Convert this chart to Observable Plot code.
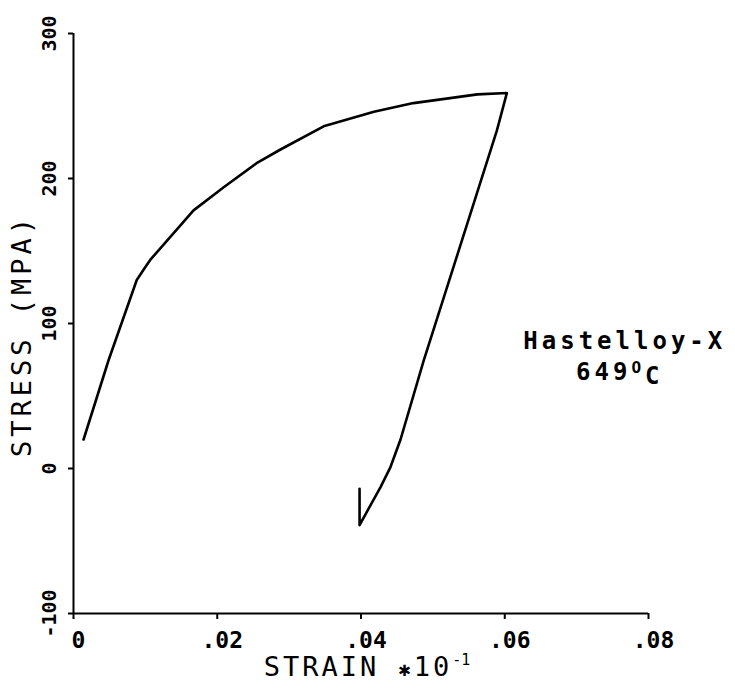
<!DOCTYPE html>
<html>
<head>
<meta charset="utf-8">
<script src="https://cdn.jsdelivr.net/npm/d3@7"></script>
<script src="https://cdn.jsdelivr.net/npm/@observablehq/plot@0.6"></script>
<style>
  html, body { margin: 0; padding: 0; background: #fff; }
  svg { font-family: "DejaVu Sans Mono", monospace; }
</style>
</head>
<body>
<div id="chart"></div>
<script>
// Stress-strain curve, Hastelloy-X at 649 °C
const strain = [0.0014, 0.0049, 0.0088, 0.0100, 0.0107, 0.0167, 0.0209, 0.0256, 0.0288, 0.0348, 0.0418, 0.0473, 0.0562, 0.0603,
                0.0589, 0.0487, 0.0455, 0.0441, 0.0427, 0.0398, 0.0398];
const stress = [20, 75, 130, 139, 144, 178, 194, 211, 220, 236, 246, 252, 258, 259,
                233, 74, 20, 1, -13, -39, -14];

const xTicks = [0, 0.02, 0.04, 0.06, 0.08];
const xTickLabels = ["0", ".02", ".04", ".06", ".08"];
const yTicks = [-100, 0, 100, 200, 300];
const yTickLabels = ["-100", "0", "100", "200", "300"];

const xLabel = "STRAIN \u273110-1";
const yLabel = "STRESS (MPA)";
const material = "Hastelloy-X";
const temperature = "649OC";

const points = strain.map((s, i) => ({strain: s, stress: stress[i]}));

const chart = Plot.plot({
  width: 735,
  height: 688,
  marginLeft: 73,
  marginRight: 87,
  marginTop: 33,
  marginBottom: 75,
  x: {domain: [0, 0.08]},
  y: {domain: [-100, 300]},
  style: {fontFamily: "DejaVu Sans Mono, monospace", color: "#000", background: "#fff"},
  marks: [
    Plot.ruleX([0], {y1: -100, y2: 300, stroke: "#000", strokeWidth: 2}),
    Plot.ruleY([-100], {x1: 0, x2: 0.08, stroke: "#000", strokeWidth: 2.2}),
    Plot.axisX({ticks: xTicks, tickFormat: () => "", tickSize: 6, label: null, strokeWidth: 2}),
    Plot.text(xTicks, {x: d => d, text: d => xTickLabels[xTicks.indexOf(d)], frameAnchor: "bottom", lineAnchor: "top",
                       dx: 5, dy: 18, fontSize: 23, fontWeight: "bold"}),
    Plot.axisY({ticks: yTicks, tickFormat: d => yTickLabels[yTicks.indexOf(d)], tickSize: 5, tickPadding: 13,
                tickRotate: -90, fontSize: 20, fontWeight: "bold", label: null, strokeWidth: 2}),
    Plot.line(points, {x: "strain", y: "stress", stroke: "#000", strokeWidth: 2.6, strokeLinejoin: "round"}),
    Plot.text([xLabel], {text: d => d, frameAnchor: "bottom", textAnchor: "middle", lineAnchor: "middle", dx: 6, dy: 54, fontSize: 27}),
    Plot.text([yLabel], {text: d => d, frameAnchor: "left", textAnchor: "middle", lineAnchor: "middle", rotate: -90, dx: -51, dy: 12, fontSize: 27}),
    Plot.text([material], {text: d => d, x: 0.0767, y: 88, fontSize: 24, fontWeight: "bold"}),
    Plot.text([temperature], {text: d => d, x: 0.0760, y: 66, fontSize: 24, fontWeight: "bold"})
  ]
});

document.getElementById("chart").appendChild(chart);

// letter spacing and superscripts for the annotation texts
d3.select(chart).selectAll("text").each(function() {
  const t = d3.select(this);
  const s = this.textContent;
  if (s === xLabel) {
    t.text("").style("letter-spacing", "3px");
    t.append("tspan").text("STRAIN ");
    t.append("tspan").attr("font-size", 20).attr("dy", "-0.02em").text("\u2731");
    t.append("tspan").attr("dy", "0.02em").text("10");
    t.append("tspan").attr("font-size", 15).attr("dy", "-0.75em").style("letter-spacing", "0px").text("-1");
  } else if (s === yLabel) {
    t.style("letter-spacing", "4px");
  } else if (s === material) {
    t.style("letter-spacing", "4px");
  } else if (s === temperature) {
    t.text("").style("letter-spacing", "4px");
    t.append("tspan").text("649");
    t.append("tspan").attr("font-size", 16).attr("dy", "-0.45em").text("O");
    t.append("tspan").attr("dy", "0.45em").text("C");
  }
});
</script>
</body>
</html>
